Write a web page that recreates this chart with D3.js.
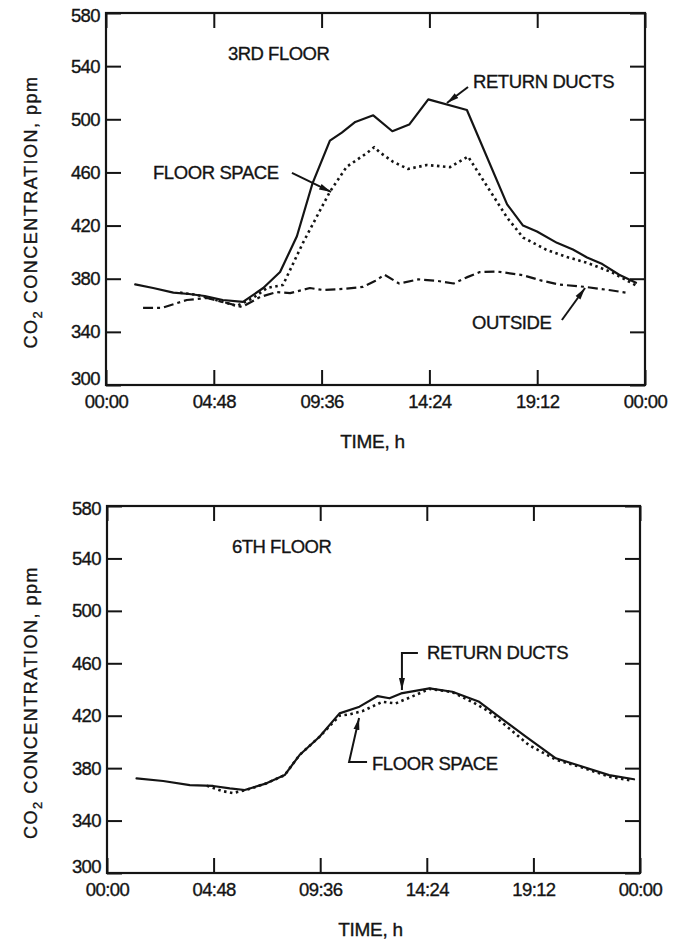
<!DOCTYPE html>
<html>
<head>
<meta charset="utf-8">
<script src="https://cdn.jsdelivr.net/npm/d3@7"></script>
<style>
body { margin: 0; background: #fff; }
svg text { font-family: "Liberation Sans", Arial, sans-serif; fill: #141414; stroke: #141414; stroke-width: 0.35px; }
</style>
</head>
<body>
<script>
// axis ticks (time in hours, CO2 in ppm)
var timeTicks = [0, 4.8, 9.6, 14.4, 19.2, 24]
var timeLabels = ["00:00", "04:48", "09:36", "14:24", "19:12", "00:00"]
var ppmTicks = [300, 340, 380, 420, 460, 500, 540, 580]

// 3rd floor
var f3ReturnTime = [1.3, 2.1, 3.0, 3.7, 4.4, 5.2, 6.1, 7.0, 7.75, 8.5, 9.2, 9.97, 10.5, 11.1, 11.9, 12.75, 13.5, 14.35, 16.07, 17.86, 18.57, 19.19, 20.08, 20.79, 21.42, 22.1, 22.85, 23.6]
var f3ReturnPpm = [375.7, 373, 369.5, 368.5, 367, 364, 362.5, 373, 385, 412, 452, 484, 490, 498, 503, 491, 496, 515, 507, 436, 420, 415.5, 407, 402, 396, 391, 383, 377]

var f3FloorTime = [3.3, 4.0, 4.8, 5.83, 6.5, 7.17, 7.88, 8.77, 9.97, 10.72, 11.6, 11.94, 12.2, 12.78, 13.45, 14.29, 15.32, 16.12, 16.65, 17.86, 18.57, 19.63, 20.53, 21.42, 22.5, 23.6]
var f3FloorPpm = [369.5, 368, 364.5, 359.5, 365, 373, 375.3, 407, 445.5, 464.3, 474.4, 479, 475, 468, 462.6, 465.6, 464, 472, 458, 426, 411, 401.6, 396.3, 392, 385, 375]

var f3OutsideTime = [1.65, 2.49, 3.6, 4.5, 5.39, 6.06, 6.86, 7.6, 8.2, 9.08, 9.66, 10.55, 11.44, 12.0, 12.4, 13.05, 13.92, 14.7, 15.48, 16.06, 16.64, 17.42, 18.58, 19.36, 20.14, 21.3, 22.47, 23.24]
var f3OutsidePpm = [358, 358, 364, 365.5, 361.7, 358.7, 366.2, 370, 369.2, 373, 371.5, 372.3, 373.8, 378.5, 383, 376.4, 379.5, 378.5, 376.4, 381, 385, 385.4, 382.6, 378.7, 375.7, 373.9, 371.3, 369.3]

// 6th floor
var f6ReturnTime = [1.33, 2.53, 3.73, 4.78, 5.53, 6.2, 7.18, 8.0, 8.67, 9.57, 10.47, 11.37, 12.19, 12.72, 13.24, 14.52, 15.55, 16.76, 17.66, 18.86, 20.21, 21.39, 22.61, 23.73]
var f6ReturnPpm = [372.2, 370.2, 367.1, 366.4, 364.6, 363.3, 368.4, 374.7, 390, 404, 421.8, 426.9, 435, 433.3, 437, 440.9, 438.3, 430.6, 419.2, 404, 387.5, 381.2, 374.7, 371.5]

var f6FloorTime = [4.5, 5.2, 5.66, 6.2, 7.18, 8.0, 8.67, 9.57, 10.47, 10.92, 11.5, 12.4, 13.0, 13.9, 14.52, 15.55, 16.5, 17.21, 18.1, 19.0, 20.21, 21.39, 22.61, 23.64]
var f6FloorPpm = [366.5, 362.5, 361, 363, 368.4, 374.7, 390, 404, 420, 421, 423.5, 430.6, 429.4, 435.8, 440.5, 438, 430, 423, 410.4, 397.6, 386.5, 380.5, 373.5, 370.4]

var WIDTH = 682
var HEIGHT = 939
var TICK = 15
var INK = "#141414"

var svg = d3.select("body").append("svg")
    .attr("width", WIDTH)
    .attr("height", HEIGHT)

var defs = svg.append("defs")
defs.append("marker").attr("id", "arrow")
    .attr("viewBox", "0 0 12 8")
    .attr("refX", 12).attr("refY", 4)
    .attr("markerWidth", 12).attr("markerHeight", 8)
    .attr("markerUnits", "userSpaceOnUse")
    .attr("orient", "auto")
  .append("path").attr("d", "M0,1 L12,4 L0,7 Z").attr("fill", INK)

function zip(times, values)
{
  return times.map(function(t, i) { return [t, values[i]] })
}

var styles = {
  solid: {width: 2.2, dash: null, cap: "round"},
  dotted: {width: 2.6, dash: "2.5,3.5", cap: "butt"},
  dashdot: {width: 2.2, dash: "10,4,3,4", cap: "butt"}
}

function drawPanel(p)
{
  var x = d3.scaleLinear().domain([0, 24]).range([p.left, p.right])
  var y = d3.scaleLinear().domain([300, 580]).range([p.bottom, p.top])
  var g = svg.append("g")

  // ticks on all four sides, pointing inward
  var bottom = g.append("g").attr("transform", "translate(0," + p.bottom + ")")
      .call(d3.axisBottom(x).tickValues(timeTicks)
        .tickFormat(function(d, i) { return timeLabels[i] })
        .tickSizeInner(-TICK).tickSizeOuter(0).tickPadding(10))
  var top = g.append("g").attr("transform", "translate(0," + p.top + ")")
      .call(d3.axisTop(x).tickValues(timeTicks).tickFormat("")
        .tickSizeInner(-TICK).tickSizeOuter(0))
  var left = g.append("g").attr("transform", "translate(" + p.left + ",0)")
      .call(d3.axisLeft(y).tickValues(ppmTicks)
        .tickSizeInner(-TICK).tickSizeOuter(0).tickPadding(6))
  var right = g.append("g").attr("transform", "translate(" + p.right + ",0)")
      .call(d3.axisRight(y).tickValues(ppmTicks).tickFormat("")
        .tickSizeInner(-TICK).tickSizeOuter(0))

  g.selectAll(".domain").remove()
  g.selectAll(".tick line").attr("stroke", INK).attr("stroke-width", 2)
  g.selectAll(".tick text")
      .style("font-family", '"Liberation Sans", Arial, sans-serif')
      .style("font-size", "18.5px")
      .attr("fill", INK)
  bottom.selectAll(".tick text").attr("letter-spacing", "-0.6px")
  left.selectAll(".tick text").attr("letter-spacing", "-0.6px")
  // the lowest and highest labels sit slightly inside the frame corners
  left.selectAll(".tick text").filter(function(d) { return d === 300 }).attr("y", -6)
  left.selectAll(".tick text").filter(function(d) { return d === 580 }).attr("y", 3)

  g.append("rect")
      .attr("x", p.left).attr("y", p.top)
      .attr("width", p.right - p.left).attr("height", p.bottom - p.top)
      .attr("fill", "none").attr("stroke", INK).attr("stroke-width", 2.2)

  var line = d3.line()
      .x(function(d) { return x(d[0]) })
      .y(function(d) { return y(d[1]) })

  p.series.forEach(function(s)
  {
    var st = styles[s.style]
    g.append("path")
        .attr("d", line(zip(s.time, s.ppm)))
        .attr("fill", "none")
        .attr("stroke", INK)
        .attr("stroke-width", st.width)
        .attr("stroke-linejoin", "round")
        .attr("stroke-linecap", st.cap)
        .attr("stroke-dasharray", st.dash)
  })

  // floor label and annotations
  g.append("text").attr("x", x(p.title[0])).attr("y", y(p.title[1]))
      .attr("font-size", "18.5px").attr("letter-spacing", "-0.5px")
      .text(p.title[2])

  p.notes.forEach(function(n)
  {
    g.append("text").attr("x", x(n.at[0])).attr("y", y(n.at[1]))
        .attr("font-size", "18.5px").attr("letter-spacing", "-0.4px")
        .text(n.text)
    g.append("path")
        .attr("d", d3.line()(n.leader.map(function(d) { return [x(d[0]), y(d[1])] })))
        .attr("fill", "none").attr("stroke", INK).attr("stroke-width", 2)
        .attr("marker-end", "url(#arrow)")
  })

  // axis titles
  g.append("text")
      .attr("x", (p.left + p.right) / 2 - 3)
      .attr("y", p.bottom + 63)
      .attr("text-anchor", "middle")
      .attr("font-size", "19px").attr("letter-spacing", "-0.3px")
      .text("TIME, h")

  var yt = g.append("text")
      .attr("transform", "translate(37," + ((p.top + p.bottom) / 2 + 13) + ")rotate(-90)")
      .attr("text-anchor", "middle")
      .attr("font-size", "18px").attr("letter-spacing", "1.5px")
  yt.append("tspan").text("CO")
  yt.append("tspan").attr("font-size", "13px").attr("dy", 5).text("2")
  yt.append("tspan").attr("dy", -5).text(" CONCENTRATION, ppm")
}

drawPanel({
  left: 106, right: 645, top: 13, bottom: 385,
  title: [5.43, 545, "3RD FLOOR"],
  series: [
    {time: f3ReturnTime, ppm: f3ReturnPpm, style: "solid"},
    {time: f3FloorTime, ppm: f3FloorPpm, style: "dotted"},
    {time: f3OutsideTime, ppm: f3OutsidePpm, style: "dashdot"}
  ],
  notes: [
    {text: "RETURN DUCTS", at: [16.34, 523.2], leader: [[16.12, 524.3], [15.18, 512.3]]},
    {text: "FLOOR SPACE", at: [2.09, 454.7], leader: [[8.28, 459.6], [10.02, 445.3]]},
    {text: "OUTSIDE", at: [16.3, 342.5], leader: [[20.3, 348.9], [21.33, 373]]}
  ]
})

drawPanel({
  left: 107, right: 640, top: 506, bottom: 873,
  title: [5.63, 543.8, "6TH FLOOR"],
  series: [
    {time: f6ReturnTime, ppm: f6ReturnPpm, style: "solid"},
    {time: f6FloorTime, ppm: f6FloorPpm, style: "dotted"}
  ],
  notes: [
    {text: "RETURN DUCTS", at: [14.41, 462.9], leader: [[14.0, 467.8], [13.28, 467.8], [13.28, 439.6]]},
    {text: "FLOOR SPACE", at: [11.93, 378.96], leader: [[11.71, 384.7], [10.9, 384.7], [11.35, 418.3]]}
  ]
})
</script>
</body>
</html>
